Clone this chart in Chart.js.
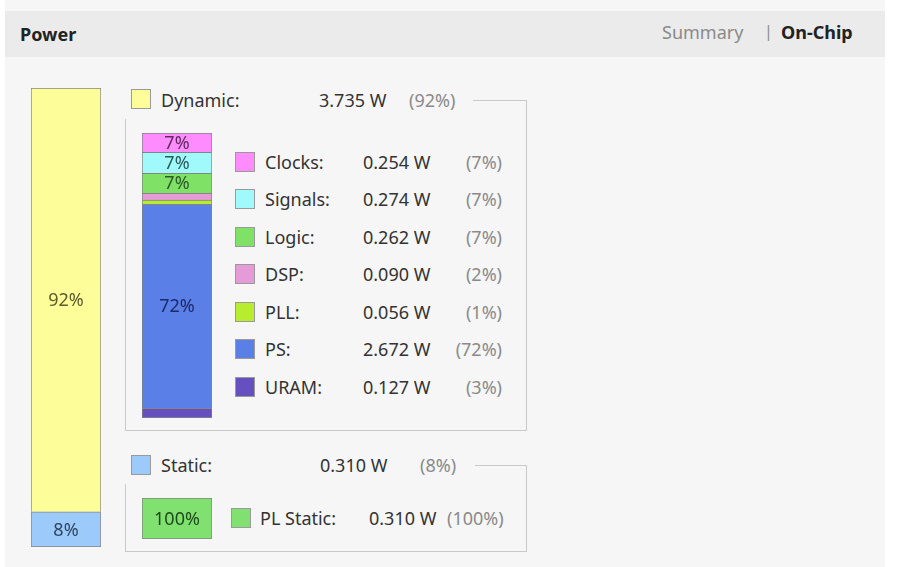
<!DOCTYPE html>
<html>
<head>
<meta charset="utf-8">
<script src="https://cdn.jsdelivr.net/npm/chart.js@4.4.1/dist/chart.umd.min.js"></script>
<style>
  html, body { margin:0; padding:0; background:#ffffff; width:905px; height:567px; overflow:hidden; }
  body { font-family:"Noto Sans", "Open Sans", sans-serif; font-size:18px; color:#333; }
  #panel { position:absolute; left:5px; top:0; width:880px; height:567px; background:#f6f6f6; }
  #header { position:absolute; left:5px; top:11px; width:880px; height:46px; background:#ebebeb; }
  .t { position:absolute; height:24px; line-height:24px; white-space:nowrap; }
  .b { font-weight:bold; color:#222; }
  .g { color:#8a8a8a; }
  .sep { color:#8c8c8c; font-size:16px; }
  .sq { position:absolute; width:18px; height:18px; border:1px solid #9a9a9a; }
  .ln { position:absolute; background:#c9c9c9; }
  .cv { position:absolute; }
</style>
</head>
<body>
<div id="panel"></div>
<div id="header"></div>
<div id="ui"></div>
<div class="cv" id="totalBox" style="left:31px;top:88px;width:70px;height:459px;"><canvas id="totalChart"></canvas></div>
<div class="cv" id="dynBox" style="left:142px;top:133px;width:70px;height:285px;"><canvas id="dynChart"></canvas></div>
<div class="cv" id="statBox" style="left:142px;top:498px;width:70px;height:41px;"><canvas id="statChart"></canvas></div>
<script>
// ---- data ----
const totalCategories = ['Dynamic', 'Static'];
const totalWatts = [3.735, 0.310];
const totalPct = [92, 8];

const dynCategories = ['Clocks', 'Signals', 'Logic', 'DSP', 'PLL', 'PS', 'URAM'];
const dynWatts = [0.254, 0.274, 0.262, 0.090, 0.056, 2.672, 0.127];
const dynPct = [7, 7, 7, 2, 1, 72, 3];

const staticCategories = ['PL Static'];
const staticWatts = [0.310];
const staticPct = [100];

const tabLabels = ['Summary', 'On-Chip'];
const panelTitle = 'Power';

// ---- styles ----
const totalColors = ['#fdfd9a', '#9ccbfb'];
const totalLabelColors = ['#5c5c2e', '#2f4660'];
const dynColors = ['#ff8cff', '#a0f9fb', '#7fe267', '#e49bd8', '#b8ec2e', '#5a7fe6', '#6650c0'];
const dynLabelColors = ['#5e2a5e', '#2a5a5c', '#2a5a26', '#5a3056', '#44561a', '#1b2a6a', '#241a4a'];
const staticColors = ['#80e070'];
const staticLabelColors = ['#1f4a1a'];

const ui = document.getElementById('ui');
function text(str, x, cy, cls, align) {
  const d = document.createElement('div');
  d.className = 't ' + (cls || '');
  d.textContent = str;
  d.style.top = (cy - 12) + 'px';
  if (align === 'right') { d.style.right = (905 - x) + 'px'; d.style.textAlign = 'right'; }
  else d.style.left = x + 'px';
  ui.appendChild(d);
}
function square(x, y, color) {
  const d = document.createElement('div');
  d.className = 'sq';
  d.style.left = x + 'px'; d.style.top = y + 'px'; d.style.background = color;
  ui.appendChild(d);
}
function line(x, y, w, h) {
  const d = document.createElement('div');
  d.className = 'ln';
  d.style.left = x + 'px'; d.style.top = y + 'px'; d.style.width = w + 'px'; d.style.height = h + 'px';
  ui.appendChild(d);
}
function fmtW(v) { return v.toFixed(3) + ' W'; }

// header
text(panelTitle, 20, 34, 'b');
text(tabLabels[0], 662, 32, 'g');
text('|', 764, 31, 'sep');
text(tabLabels[1], 781, 32, 'b');

// dynamic group
square(131, 89, totalColors[0]);
text(totalCategories[0] + ':', 161, 100);
text(fmtW(totalWatts[0]), 319, 100);
text('(' + totalPct[0] + '%)', 409, 100, 'g');
line(473, 100, 54, 1);
line(526, 100, 1, 331);
line(125, 430, 402, 1);
line(125, 119, 1, 312);

const rowY = [162, 199, 237, 274, 312, 349, 387];
dynCategories.forEach((c, i) => {
  square(235, rowY[i] - 10, dynColors[i]);
  text(c + ':', 265, rowY[i]);
  text(fmtW(dynWatts[i]), 363, rowY[i]);
  text('(' + dynPct[i] + '%)', 502, rowY[i], 'g', 'right');
});

// static group
square(131, 455, totalColors[1]);
text(totalCategories[1] + ':', 161, 465);
text(fmtW(totalWatts[1]), 320, 465);
text('(' + totalPct[1] + '%)', 420, 465, 'g');
line(475, 465, 52, 1);
line(526, 465, 1, 87);
line(125, 551, 402, 1);
line(125, 484, 1, 68);

square(231, 508, staticColors[0]);
text(staticCategories[0] + ':', 260, 518);
text(fmtW(staticWatts[0]), 369, 518);
text('(' + staticPct[0] + '%)', 447, 518, 'g');

// ---- charts ----
const segLabels = {
  id: 'segLabels',
  afterDatasetsDraw(chart) {
    const ctx = chart.ctx;
    ctx.save();
    ctx.font = '18px "Noto Sans", "Open Sans", sans-serif';
    ctx.textAlign = 'center';
    ctx.textBaseline = 'middle';
    chart.data.datasets.forEach((ds, i) => {
      const meta = chart.getDatasetMeta(i);
      meta.data.forEach(el => {
        const h = Math.abs(el.base - el.y);
        if (h < 16 || ds.pct < 5) return;
        ctx.fillStyle = ds.labelColor;
        ctx.fillText(ds.pct + '%', el.x, (el.y + el.base) / 2 + 1);
      });
    });
    ctx.restore();
  }
};

function stackedChart(canvasId, cats, vals, pcts, colors, labelColors) {
  // bottom segment first in a stacked bar, so reverse listing order
  const n = cats.length;
  const datasets = [];
  for (let k = n - 1; k >= 0; k--) {
    datasets.push({
      label: cats[k],
      data: [vals[k]],
      pct: pcts[k],
      labelColor: labelColors[k],
      backgroundColor: colors[k],
      borderColor: '#858585',
      borderWidth: { top: 1, left: 1, right: 1, bottom: k === n - 1 ? 1 : 0 },
      borderSkipped: false,
      barPercentage: 1,
      categoryPercentage: 1
    });
  }
  const total = vals.reduce((a, b) => a + b, 0);
  return new Chart(document.getElementById(canvasId), {
    type: 'bar',
    data: { labels: [''], datasets },
    options: {
      responsive: true,
      maintainAspectRatio: false,
      animation: false,
      devicePixelRatio: 1,
      layout: { padding: 0 },
      plugins: { legend: { display: false }, tooltip: { enabled: false } },
      scales: {
        x: { stacked: true, display: false, offset: true, grid: { offset: true } },
        y: { stacked: true, display: false, min: 0, max: total }
      }
    },
    plugins: [segLabels]
  });
}

stackedChart('totalChart', totalCategories, totalWatts, totalPct, totalColors, totalLabelColors);
stackedChart('dynChart', dynCategories, dynWatts, dynPct, dynColors, dynLabelColors);
stackedChart('statChart', staticCategories, staticWatts, staticPct, staticColors, staticLabelColors);
</script>
</body>
</html>
